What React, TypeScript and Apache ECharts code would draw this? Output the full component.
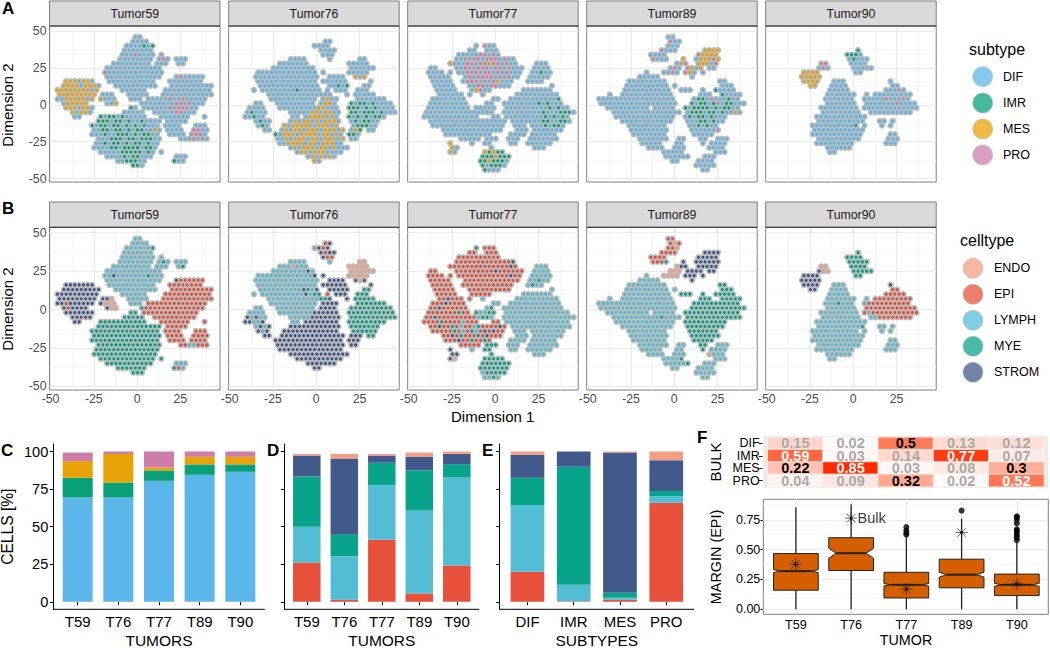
import React, { useEffect, useRef } from "react";
import * as echarts from "echarts";

const FONT = '"Liberation Sans", Arial, sans-serif';

const tumors = ["Tumor59", "Tumor76", "Tumor77", "Tumor89", "Tumor90"];
const tumorCodes = ["T59", "T76", "T77", "T89", "T90"];
const subtypes = ["DIF", "IMR", "MES", "PRO"];
const celltypes = ["ENDO", "EPI", "LYMPH", "MYE", "STROM"];
const subtypeColors = ["#56B4E9", "#009E73", "#E69F00", "#CC79A7"];
const celltypeColors = ["#F39B7F", "#E64B35", "#4DBBD5", "#00A087", "#3C5488"];
const cellCodes = "EPLMS";
const subCodes = ".imp";
const dimTicks = [-50, -25, 0, 25];
const dimYTicks = [-50, -25, 0, 25, 50];

// t-SNE maps: one character per estimated point. Rows run from Dimension 2 = 46 downward by 3,
// columns from Dimension 1 = -46 rightward by 2.5 (odd rows sit a quarter-cell over).
const cells59 = [
  "..................LL",
  ".................LLLL",
  "................LLLLLLM",
  "...............LLLLLLL",
  "...............LLLLLLLL.L",
  "..............LLLLLLLL.LML.LLL",
  ".............LLLLLLLLL.LLL..LM",
  "...........LLLLLLLLLLLLL",
  "...........LLSLLLLLLLMLLL",
  "...........LLLLLLLLLLLLL...SPPPPPP",
  "..SSSSSSS...LLLLLLLLLLL...PPPPPPPP",
  ".SSSSSSSSS...LLLLLLLLLL...PPPPPPPPPP",
  "SSSSSSSSSS.....LLLLLL....PPPPPPPPPPP",
  "SSSSSSSSS.SSE...LLLLL...PPPPPPPPPPPP",
  "SSPSSSSSS.SEEE...LLL.PPPPPPPPPPPPPP",
  ".SPSSSS....SEE.....MPPPPPPPPPPPPPP",
  "..SSSSSSS........MM.PPPPPPPPPPPPP",
  "...SSSSS.......MMMMM..PPPPPPPPPP",
  "....SS....MMMMMMMMMMM...PPPPPPP...P",
  ".........MMMMMMMMMMMMMMM.PPPPP",
  "........MMMMMMMMMMMMMMMM.PPPP...PPP",
  "........MMMMMMMMMMMMMMMM.PPPP..PPPP",
  "........MMMMMMMMMMMMMMMM..PPPP.PPPP",
  ".........MMMMMMMMMMMMMMM....PPLLPPP",
  ".........MMMMMMMMMMMMMMM",
  "........MMMMMMMMMMMMMMM",
  "..........MMMMMMMMMMMMM.M",
  "...........MMMMMMMMMMM.....LLL",
  "..............MMMMMMM......MPL",
  ".................MMM",
];
const cells76 = [
  "",
  "....................PS",
  "..................LSPS",
  "...................SPSS",
  "....................SPP",
  "............LLLL.....L......EE",
  "..........LLLELLL.........EEEEE",
  "........LLLLLLLLSL........EEEEEE",
  ".....LLLLLLLLLLLLLS.S.....EEEEE",
  "....LLLLLLLLLLLLLLL..SSSS..SES",
  ".....LLLLLLLLLLLLLL.SSSSSS.....S",
  ".....LLLLLLLLLLSMLS..SSSSS...MM",
  "....L.LLLLLLLLLLSLMM.P.SSS..MMM",
  ".......LLLLLLLLLLLLMMS...S.MMMMM",
  "........LLLLLLLLLLL.SSSS....MMMMMMM",
  "....LL...LLLLLLLLL.SSSS...MMMMMMMMMM",
  "...LLLL...LLLLLLLLSSSSSS..MMMMMMMMMMM",
  "..SLSLL.....LLLLLSSSSSSS..MMMMMMMMMMM",
  "..SSLLS......LL.SSSSSSSS..MMMMMMMMM",
  "....LSLS....SSSSSSSSSSSS..MMMMMMM",
  ".....SLS...SSSSSSSSSSSSS...MMMMMM",
  "......SS..SSSSSSSSSSSSSSS.SSS.MM",
  ".........SSSSSSSSSSSSSSSS.SSS",
  ".........SSSSSSSSSSSSSSSS.SS",
  "..........SSSSSSSSSSSSSSS",
  "............SSSSSSSSSSSSSS",
  "..............SSSSSSSSSSS",
  "................SSSSSSS",
  "..................SS",
];
const cells77 = [
  "",
  "",
  "..............M.PPP",
  "............PP..PPP",
  "..........PPPPPPPPPP",
  ".........PPPPPPPPPPPPPS",
  "........PPPPPPPPPPPPPPSP....LLL",
  "...PP....PPPPPPPPPSPPPPPP..LLLL",
  "...PPPP.P.PPPPPPPPPPPPSPP..LLLLL",
  "...PPPPP...PPPPPPPPPPPPP..LLMLL",
  "....PPPPP..PPPPPPPPPPPP...LMLL",
  "....PPPPP...PPPPPPPPPP.........L",
  ".....PPPPP...PPPPP.......LLLLLLL",
  ".....PPSPPP.P..L.......LLLLLLLLLL",
  "....PPPSPPPP......LL..LLLLLLLLLLLL",
  "...PPSPPPPPP....LM..LLLLLLLLLLLLLL",
  "...PPPPPPPMPP.MLLMM..LLLLLLLLLLLLLLL",
  "..PPSPPPPPPPPPLMML..LLLLLLLLLLLLLLLLL",
  "..PPPPMPPPPLPPP...PP.LLLLLLLLLLLLLLL",
  "...PPSPPMPLPPLMPPPPSP.LLLLLLLLLLLLLL",
  "....PPPPPMPLPMLPSPSPP..LLL.LLLLLLLL",
  "......PPSPMPPPMPSPPP...LLL.LLLLLLL",
  ".......PPPSPPMPPMP....LLLL.LLLLLL",
  "..........PPPPP.MMM..LLL..LLLLLLL",
  "........S....L..MM....LL..LLLLLL",
  "........SS.......M.........LLL",
  "........SE......MMMMM",
  "...............MMMMMMM",
  "...............MMMMMMM",
  "...............LMMMMM",
  "................LLML",
];
const cells89 = [
  ".................PP",
  ".................PEP",
  ".................PPE",
  "...............PPPP......SSSS",
  ".............PPPP.......SSSSS",
  ".............PPPM...S..SSSSSS",
  "...................ESS..SSSSS",
  ".................EEE.SSSS.SS",
  "............L...EEEE.SSS.S",
  "..........LLLLL.......S",
  "........LLLLLLLLL............MM",
  ".......LLLLLLLLLL.L..........MMM",
  ".......LLLLLLLLLLL..MMM..M..MMMMM",
  "...L..LLLLLLLLLLLL......MMM..MMMMM",
  ".LLLLLLLLLLLLLLLLLL....MMMMMMMMMMM",
  ".LLLLLLLLLLLLLLLLLL...MMMMMMMMMMMMM",
  "...LLLLLLLLLL.LLLLL..MMMMMMMMMMMMM",
  "....LLLLLLLLLLLMLLLL.MMMMMMMMMMMMM",
  ".....LLLLLLLLLLLLLL..MMMMMMMMMM",
  "......LLLLLLLLLLLL...MMMMMMMMM",
  "........LLLLLLLLL.....MMMMMMM",
  "........LLLLLLLLL.....MMMMMMM",
  ".........LLLLLLLL......MMMMM",
  "..........LLLLLLL..LL...MM..LLL",
  "...........LLLLL...LL....M.LLLL",
  "............LLLL..LLL.....ELLL",
  "................LLLLM.......LLL",
  "................LLLLLM...LLL",
  "..................LL....LLLL",
  ".......................LLLLL",
  ".........................LL",
];
const cells90 = [
  "",
  "",
  "",
  "...................M",
  ".................MMMM",
  ".................MMMMM",
  "...........EE.....MMMM",
  "..........SEE.....MMMMM",
  ".......SSSS........MM",
  "......SSSSS",
  ".......SSSS...LLL..........S",
  "........SS...LLLL..........PP",
  ".............LLLLL........PPPPP",
  "............LLLLLLL..L.PPPPPPPPP",
  "............LLLMLLL..LPPPPPPPPPP",
  "............LLLLLLL..PPPPPPPPPPPP",
  "...........LLLLLLLLL.PLPPPPPPPPPPP",
  "...........LLLLLLLLL..LLPPPPPPPP",
  "..........LLLLLLLLLLLL",
  "..........LLLLLLLLLLM...LL.L",
  ".........LLLLLLLLLLL.L...L.L",
  ".........LLLLLLLLLLLL",
  ".........LLLLLLLLLLLL......LL",
  "..........LLLLLLLLLL......LLL",
  "..........LLLLLLLLL.......LLL",
  "............LLLLLL",
  ".............LL",
];

// Subtype of the same points: "." is DIF, i IMR, m MES, p PRO.
const subs59 = [
  "", "", "....................i.i", "", "..................p", "........................p", "", "",
  "...........p", "............................p", "..mmm.mm", ".mmmm.mmm", "mmmmmmmm.m", "mmmmmmmmm",
  "..mmmmm.m.m....m..........p..p", "p.mmmmm......m.............pp.p", "..mmm.mm.........i........p.ppp",
  "...m.mm.....i..............pp", "..........i.ii.i", ".........iii.ii.i..i", "........i.ii.ii.i.i.i",
  "..........ii.ii.i.ii..m........pp", "...........i..iii.i.ii.........ppp", "............iii.ii.iii.........p.p",
  "...........i.ii.i.ii.i", "............ii.iiii.ii", "...............iiiii.i", "...............i.ii",
  "................iii.......ii", ".................ii",
];
const subs76 = [
  "", "", "", "", "", "", "", "", "", "...........................m.m", "", ".......................i.i.m",
  "..............i", ".......................m", ".....................m", "..................m.mm....i.ii.i",
  "...................mm.....iii.i.i", "...i.............mm.mm....ii.iii.i", "....i..........m.mmmm.m...i.i.i.ii",
  ".....i.......m.mm.m.mmm....i.ii", "......i....m.mmmmm.mmm.m....iii", "...........m.mm.mmm.mmm.m..mii",
  ".........i.mmm.mmmm.mm.m..ii", "...........m.mmm.mm.mmm.m", "............mmmm.mm.mmm", ".............m.mmm.mm.m",
  "...............mm.mmm", ".................m.m.m", "..................m",
];
const subs77 = [
  "", "", "................p", "", "...............pp.p.m", "...........p.pp.ppp.p", "........m...pp.ppmpp.p",
  "...........pp.ppp.pp.p", "............ppp.pp.p.p.......i", "............p.pppp.p.p", "............ppp.p.pm",
  "..............pp.pp", "..............mp", "", ".................................i", "..................i.........i.i",
  "...............................i.i", ".............................i...iii", "..............................i.i.i",
  ".............................ii..ii", "..............................i.ii", "", "", "", "........m", "........m",
  "........m.......mimii", "...............iiimiii", "...............iimiii", "...............i.iii", "................i",
];
const subs89 = [
  "", ".................p", "", "...............p.........mmmm", "........................pmmmm",
  ".............p......m...mmmpm", "....................mp..mmm.p", "..................p..pm.mm", "..................p..pm",
  "", "", "", "............................i", ".............................i", "........................ii.p...i",
  "......................i.ii.ip.ii", ".....................i.iiii.i.ii", "......................iii.ii.i..m",
  "......................i.ii.i", "........................ii.i", "........................i.i", "............................p",
];
const subs90 = [
  "", "", "", "...................i", ".................iii", "..................i", "...........pp", "...........p",
  ".......mmmm", "......mmmmm", ".......mmmm", "........mm", ".............................p", "",
  "..........................p...p", "............................p", "", "", "", "", "...................i",
];
const cellMaps = [cells59, cells76, cells77, cells89, cells90];
const subMaps = [subs59, subs76, subs77, subs89, subs90];

// Panel C: share of subtypes per tumour
const cDIF = [69.4, 69.4, 80.5, 84.5, 86.5];
const cIMR = [13.1, 10, 6.9, 6.9, 4.9];
const cMES = [11.1, 19, 2, 5.1, 5.1];
const cPRO = [5.7, 1.6, 10.6, 3.5, 3.5];
// Panel D: share of cell types per tumour
const dEPI = [26.2, 1.3, 41.2, 5.5, 24.2];
const dLYMPH = [23.7, 28.9, 36.4, 55.3, 58.5];
const dMYE = [33.5, 14.8, 14.9, 26.8, 8.9];
const dSTROM = [13.9, 50.3, 4.8, 8.9, 6.8];
const dENDO = [1.1, 3.1, 1.1, 2.8, 1.6];
// Panel E: share of cell types per subtype
const eEPI = [20, 0.3, 1.3, 65.9];
const eLYMPH = [44.1, 11, 1.4, 4.4];
const eMYE = [18.4, 78.5, 3.3, 3.5];
const eSTROM = [15.3, 10.2, 93.3, 20.4];
const eENDO = [2.2, 0, 0.7, 5.8];
// Panel F heat map
const bulkDIF = [0.15, 0.02, 0.5, 0.13, 0.12];
const bulkIMR = [0.59, 0.03, 0.14, 0.77, 0.07];
const bulkMES = [0.22, 0.85, 0.03, 0.08, 0.3];
const bulkPRO = [0.04, 0.09, 0.32, 0.02, 0.52];
const bulkLabelsBlack = [0.5, 0.22, 0.3, 0.32];
const bulkLabelsWhite = [0.59, 0.77, 0.85, 0.52];
// Panel F box plot
const boxLow = [0, 0, 0, 0, 0];
const boxQ1 = [0.16, 0.325, 0.095, 0.18, 0.115];
const boxMed = [0.32, 0.47, 0.205, 0.29, 0.205];
const boxQ3 = [0.467, 0.6, 0.31, 0.42, 0.295];
const boxHigh = [0.855, 0.88, 0.61, 0.76, 0.56];
const boxNotch = [0.012, 0.042, 0.01, 0.02, 0.012];
const bulkStar = [0.378, 0.764, 0.17, 0.644, 0.213];
const outliersT77 = [0.625, 0.64, 0.66, 0.69];
const outliersT89 = [0.827];
const outliersT90 = [0.58, 0.6, 0.62, 0.64, 0.66, 0.67, 0.72, 0.75, 0.77, 0.78];

const panelLefts = [49.5, 228.7, 407.7, 586.7, 765.7];
const PANEL_W = 170.5;
const GREY = "#bcbcbc";
const BORDER = "#7f7f7f";

function parsePoints(rows: string[], subRows: string[]) {
  const out: { x: number; y: number; cell: number; sub: number }[] = [];
  rows.forEach((row, j) => {
    for (let i = 0; i < row.length; i++) {
      const c = cellCodes.indexOf(row[i]);
      if (c < 0) continue;
      const subChar = (subRows[j] || "")[i] || ".";
      out.push({
        x: -46 + 2.5 * i + (j % 2 ? 1.25 : 0),
        y: 46 - 3 * j,
        cell: c,
        sub: Math.max(0, subCodes.indexOf(subChar)),
      });
    }
  });
  return out;
}

function gridMarks(xMajor: number[], xMinor: number[], yMajor: number[], yMinor: number[], xi: number) {
  const major = { color: "#ebebeb", width: 1, type: "solid" };
  const minor = { color: "#f2f2f2", width: 0.6, type: "solid" };
  return {
    type: "line",
    xAxisIndex: xi,
    yAxisIndex: xi,
    data: [],
    z: 1,
    silent: true,
    markLine: {
      silent: true,
      z: 1,
      symbol: "none",
      animation: false,
      label: { show: false },
      data: [
        ...xMinor.map((v) => ({ xAxis: v, lineStyle: minor })),
        ...yMinor.map((v) => ({ yAxis: v, lineStyle: minor })),
        ...xMajor.map((v) => ({ xAxis: v, lineStyle: major })),
        ...yMajor.map((v) => ({ yAxis: v, lineStyle: major })),
      ],
    },
  };
}

function buildOption() {
  const grid: any[] = [];
  const xAxis: any[] = [];
  const yAxis: any[] = [];
  const series: any[] = [];
  const graphic: any[] = [];

  const text = (t: string, x: number, y: number, size: number, o: any = {}) => {
    graphic.push({
      type: "text",
      x,
      y,
      rotation: o.rot ? Math.PI / 2 : 0,
      z: 20,
      silent: true,
      style: {
        text: t,
        x: 0,
        y: 0,
        fill: o.fill || "#000",
        textAlign: o.align || "center",
        textVerticalAlign: "middle",
        font: `${o.bold ? "bold " : ""}${size}px ${FONT}`,
      },
    });
  };

  const scatterRow = (top: number, height: number, stripTop: number, useCell: boolean, labels: boolean) => {
    tumors.forEach((name, t) => {
      const idx = grid.length;
      const left = panelLefts[t];
      grid.push({
        left, top, width: PANEL_W, height,
        show: true, backgroundColor: "#fff", borderColor: BORDER, borderWidth: 1,
      });
      xAxis.push({
        type: "value", gridIndex: idx, min: -50.6, max: 47.9, position: "bottom",
        splitLine: { show: false },
        axisLine: { show: false },
        axisTick: { show: true, length: 3, customValues: dimTicks, lineStyle: { color: "#333", width: 1 } },
        axisLabel: {
          show: labels, customValues: dimTicks, margin: 3,
          color: "#4d4d4d", fontSize: 12.3, fontFamily: FONT,
        },
      });
      yAxis.push({
        type: "value", gridIndex: idx, min: -52.3, max: 53.45, show: t === 0,
        splitLine: { show: false },
        axisLine: { show: false },
        axisTick: { show: true, length: 3, customValues: dimYTicks, lineStyle: { color: "#333", width: 1 } },
        axisLabel: {
          customValues: dimYTicks, margin: 3,
          color: "#4d4d4d", fontSize: 12.3, fontFamily: FONT,
        },
      });
      series.push(gridMarks(dimTicks, [-37.5, -12.5, 12.5, 37.5], dimYTicks, [-37.5, -12.5, 12.5, 37.5], idx));
      const pts = parsePoints(cellMaps[t], subMaps[t]);
      series.push({
        type: "scatter", name: `${name} outline`, xAxisIndex: idx, yAxisIndex: idx,
        symbol: "circle", symbolSize: 6.4, z: 2, silent: true,
        itemStyle: { color: GREY, opacity: 1 },
        data: pts.map((p) => [p.x, p.y]),
      });
      const names = useCell ? celltypes : subtypes;
      const colors = useCell ? celltypeColors : subtypeColors;
      names.forEach((n, k) => {
        series.push({
          type: "scatter", name: `${name} ${n}`, xAxisIndex: idx, yAxisIndex: idx,
          symbol: "circle", symbolSize: 3.1, z: 3, silent: true,
          itemStyle: { color: colors[k], opacity: 1 },
          data: pts.filter((p) => (useCell ? p.cell : p.sub) === k).map((p) => [p.x, p.y]),
        });
      });
      graphic.push({
        type: "rect", z: 5, silent: true,
        shape: { x: left, y: stripTop, width: PANEL_W, height: top - stripTop },
        style: { fill: "#D9D9D9", stroke: BORDER, lineWidth: 1 },
      });
      graphic.push({
        type: "line", z: 6, silent: true,
        shape: { x1: left, y1: top, x2: left + PANEL_W, y2: top },
        style: { stroke: "#333", lineWidth: 1 },
      });
      text(name, left + PANEL_W / 2, (stripTop + top) / 2 + 0.5, 12.3, { fill: "#1a1a1a" });
    });
  };
  scatterRow(26, 156, 1, false, false);
  scatterRow(227.3, 162.7, 202, true, true);

  const barPanel = (
    left: number, width: number, cats: string[], barW: number, showLabels: boolean,
    stacks: number[][], colors: string[], xTitle: string,
  ) => {
    const idx = grid.length;
    const band = width / (cats.length + 0.2);
    const pad = band * 0.1;
    grid.push({ left: left + pad, top: 444, width: width - 2 * pad, height: 165.3 });
    xAxis.push({
      type: "category", gridIndex: idx, data: cats, position: "bottom",
      splitLine: { show: false },
      axisLine: { show: false },
      axisTick: { show: true, length: 3.5, alignWithLabel: true, lineStyle: { color: "#000" } },
      axisLabel: { margin: 5, color: "#000", fontSize: 15, fontFamily: FONT, interval: 0 },
    });
    yAxis.push({
      type: "value", gridIndex: idx, min: -5, max: 105, offset: pad,
      splitLine: { show: false },
      axisLine: { show: true, onZero: false, lineStyle: { color: "#000", width: 1 } },
      axisTick: { show: true, length: 3.5, customValues: [0, 25, 50, 75, 100], lineStyle: { color: "#000" } },
      axisLabel: {
        show: showLabels, customValues: [0, 25, 50, 75, 100], margin: 5,
        color: "#000", fontSize: 14.6, fontFamily: FONT,
      },
    });
    stacks.forEach((vals, k) => {
      series.push({
        type: "bar", xAxisIndex: idx, yAxisIndex: idx, stack: `s${idx}`, barWidth: barW,
        silent: true, itemStyle: { color: colors[k], opacity: 0.97 }, z: 3,
        data: vals,
      });
    });
    graphic.push({
      type: "line", z: 6, silent: true,
      shape: { x1: left, y1: 609.3, x2: left + width, y2: 609.3 },
      style: { stroke: "#000", lineWidth: 1 },
    });
    text(xTitle, left + width / 2, 640, 15.5);
  };
  barPanel(53.3, 211.4, tumorCodes, 30, true, [cDIF, cIMR, cMES, cPRO], subtypeColors, "TUMORS");
  const cellStackColors = [celltypeColors[1], celltypeColors[2], celltypeColors[3], celltypeColors[4], celltypeColors[0]];
  barPanel(284.3, 195, tumorCodes, 27.5, false, [dEPI, dLYMPH, dMYE, dSTROM, dENDO], cellStackColors, "TUMORS");
  barPanel(499.7, 194.3, subtypes, 33.7, false, [eEPI, eLYMPH, eMYE, eSTROM, eENDO], cellStackColors, "SUBTYPES");

  // heat map
  const heatIdx = grid.length;
  grid.push({ left: 767.7, top: 437.3, width: 276.3, height: 49.4 });
  xAxis.push({
    type: "category", gridIndex: heatIdx, data: tumorCodes, show: false,
    splitLine: { show: false }, axisTick: { show: false },
  });
  yAxis.push({
    type: "category", gridIndex: heatIdx, data: subtypes, inverse: true, offset: 5,
    splitLine: { show: false }, axisLine: { show: false },
    axisTick: { show: true, length: 4, alignWithLabel: true, lineStyle: { color: "#222" } },
    axisLabel: { margin: 3, color: "#000", fontSize: 12.5, fontFamily: FONT, interval: 0 },
  });
  const bulkRows = [bulkDIF, bulkIMR, bulkMES, bulkPRO];
  const heatData: any[] = [];
  bulkRows.forEach((row, r) =>
    row.forEach((v, c) => {
      const color = bulkLabelsWhite.includes(v) ? "#fff" : bulkLabelsBlack.includes(v) ? "#000" : "#a9a9a9";
      heatData.push({ value: [c, r, v], label: { color } });
    }),
  );
  const heatSeriesIndex = series.length;
  series.push({
    type: "heatmap", xAxisIndex: heatIdx, yAxisIndex: heatIdx, silent: true, z: 3,
    data: heatData,
    itemStyle: { borderColor: "#fbf3f0", borderWidth: 0.8 },
    label: {
      show: true, fontSize: 14.5, fontWeight: "bold", fontFamily: FONT,
      formatter: (p: any) => String(p.value[2]),
    },
  });
  graphic.push({
    type: "rect", z: 0, silent: true,
    shape: { x: 763.3, y: 436, width: 285, height: 52 },
    style: { fill: "#ebebeb" },
  });

  // box plot
  const boxIdx = grid.length;
  const positions = [1, 2, 3, 4, 5];
  grid.push({
    left: 763.3, top: 499.3, width: 285, height: 115,
    show: true, backgroundColor: "#fff", borderColor: BORDER, borderWidth: 1,
  });
  xAxis.push({
    type: "value", gridIndex: boxIdx, min: 0.41, max: 5.57, position: "bottom",
    splitLine: { show: false }, axisLine: { show: false },
    axisTick: { show: true, length: 3, customValues: positions, lineStyle: { color: "#333" } },
    axisLabel: {
      customValues: positions, margin: 4, color: "#000", fontSize: 12.6, fontFamily: FONT,
      formatter: (v: number) => tumorCodes[v - 1] || "",
    },
  });
  const boxTicks = [0, 0.25, 0.5, 0.75];
  yAxis.push({
    type: "value", gridIndex: boxIdx, min: -0.042, max: 0.922,
    splitLine: { show: false }, axisLine: { show: false },
    axisTick: { show: true, length: 3, customValues: boxTicks, lineStyle: { color: "#333" } },
    axisLabel: {
      customValues: boxTicks, margin: 3, color: "#000", fontSize: 12.5, fontFamily: FONT,
      formatter: (v: number) => v.toFixed(2),
    },
  });
  series.push(gridMarks(positions, [], boxTicks, [0.125, 0.375, 0.625, 0.875], boxIdx));
  series.push({
    type: "custom", xAxisIndex: boxIdx, yAxisIndex: boxIdx, z: 3, silent: true,
    encode: { x: 0, y: [1, 2, 3, 4, 5] },
    data: positions.map((p, i) => [p, boxLow[i], boxQ1[i], boxMed[i], boxQ3[i], boxHigh[i], boxNotch[i]]),
    renderItem: (_: any, api: any) => {
      const x = api.value(0);
      const [lo, q1, med, q3, hi, n] = [1, 2, 3, 4, 5, 6].map((d) => api.value(d));
      const at = (dx: number, y: number) => api.coord([x + dx, y]);
      const w = 0.405;
      const nw = 0.27;
      const ln = (a: number[], b: number[], lw: number) => ({
        type: "line",
        shape: { x1: a[0], y1: a[1], x2: b[0], y2: b[1] },
        style: { stroke: "#222", lineWidth: lw },
      });
      return {
        type: "group",
        children: [
          ln(at(0, lo), at(0, q1), 1.3),
          ln(at(0, q3), at(0, hi), 1.3),
          {
            type: "polygon",
            shape: {
              points: [
                at(-w, q1), at(w, q1), at(w, med - n), at(nw, med), at(w, med + n),
                at(w, q3), at(-w, q3), at(-w, med + n), at(-nw, med), at(-w, med - n),
              ],
            },
            style: { fill: "#D55E00", stroke: "#222", lineWidth: 1 },
          },
          ln(at(-nw, med), at(nw, med), 2),
        ],
      };
    },
  });
  const outlierData = [
    ...outliersT77.map((v) => [3, v]),
    ...outliersT89.map((v) => [4, v]),
    ...outliersT90.map((v) => [5, v]),
  ];
  series.push({
    type: "scatter", xAxisIndex: boxIdx, yAxisIndex: boxIdx, z: 4, silent: true,
    symbol: "circle", symbolSize: 6, itemStyle: { color: "#000" }, data: outlierData,
  });
  series.push({
    type: "scatter", xAxisIndex: boxIdx, yAxisIndex: boxIdx, z: 5, silent: true,
    symbol: "circle", symbolSize: 3, itemStyle: { color: "#000" },
    data: positions.map((p, i) => [p, bulkStar[i]]),
  });
  series.push({
    type: "scatter", xAxisIndex: boxIdx, yAxisIndex: boxIdx, z: 5, silent: true,
    symbol: "path://M0 6H12M6 0V12M1.8 1.8L10.2 10.2M1.8 10.2L10.2 1.8M6 6",
    symbolSize: 12,
    itemStyle: { color: "rgba(0,0,0,0)", borderColor: "#111", borderWidth: 0.8 },
    data: positions.map((p, i) =>
      i === 1
        ? {
            value: [p, bulkStar[i]],
            label: {
              show: true, position: "right", distance: 0, formatter: "Bulk",
              color: "#000", fontSize: 14.5, fontFamily: FONT,
            },
          }
        : { value: [p, bulkStar[i]] },
    ),
  });

  // legends
  const legend = (title: string, titleX: number, titleY: number, dotX: number, labelX: number, ys: number[], names: string[], colors: string[]) => {
    text(title, titleX, titleY, 16, { align: "left" });
    names.forEach((n, i) => {
      graphic.push({
        type: "circle", z: 10, silent: true,
        shape: { cx: dotX, cy: ys[i], r: 10 },
        style: { fill: colors[i], opacity: 0.72, stroke: "#bdbdbd", lineWidth: 0.8 },
      });
      text(n, labelX, ys[i], 12.5, { align: "left" });
    });
  };
  legend("subtype", 969, 49, 982.7, 1003, [76.7, 103, 129, 155], subtypes, subtypeColors);
  legend("celltype", 960, 240.7, 973, 994, [268.3, 294.3, 320.3, 346.3, 372.3], celltypes, celltypeColors);

  // titles & panel letters
  text("Dimension 2", 7.5, 105, 15, { rot: true });
  text("Dimension 2", 7.5, 309, 15, { rot: true });
  text("Dimension 1", 492.7, 416, 15);
  text("CELLS [%]", 7.5, 526.7, 15.6, { rot: true });
  text("BULK", 715.7, 462, 15, { rot: true });
  text("MARGIN (EPI)", 715.7, 557, 14.4, { rot: true });
  text("TUMOR", 906, 640, 14.3);
  text("A", 2, 8, 17, { bold: true, align: "left" });
  text("B", 2, 208, 17, { bold: true, align: "left" });
  text("C", 1, 450.5, 17, { bold: true, align: "left" });
  text("D", 267, 450.5, 17, { bold: true, align: "left" });
  text("E", 482, 450.5, 17, { bold: true, align: "left" });
  text("F", 697, 437, 17, { bold: true, align: "left" });

  return {
    animation: false,
    backgroundColor: "#fff",
    textStyle: { fontFamily: FONT },
    grid, xAxis, yAxis, series, graphic,
    visualMap: {
      show: false, seriesIndex: heatSeriesIndex, dimension: 2, min: 0, max: 0.85,
      inRange: { color: ["#ffffff", "#ffc4b5", "#ff8f70", "#ff5a33", "#ff2a00"] },
    },
  };
}

export default function App() {
  const ref = useRef<HTMLDivElement>(null);
  useEffect(() => {
    const chart = echarts.init(ref.current!, undefined, { renderer: "svg", width: 1050, height: 648 });
    chart.setOption(buildOption() as any);
    return () => chart.dispose();
  }, []);
  return <div ref={ref} style={{ position: "fixed", left: 0, top: 0, width: 1050, height: 648 }} />;
}
